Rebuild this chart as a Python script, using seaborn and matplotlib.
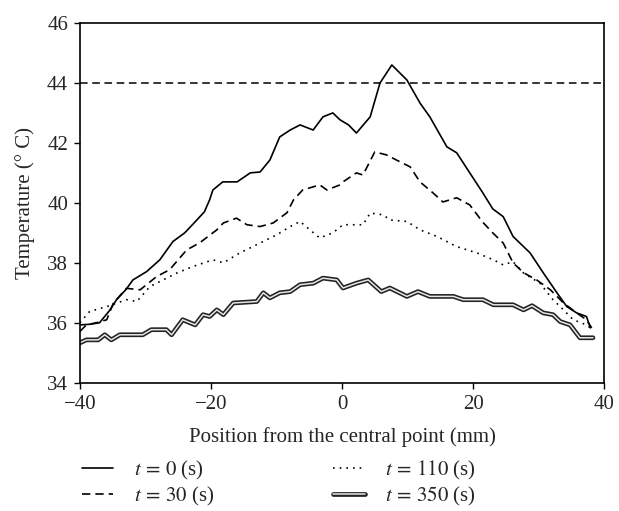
import numpy as np
import matplotlib
matplotlib.use('Agg')
import matplotlib.pyplot as plt
import matplotlib.patheffects as pe
import pandas as pd
import seaborn as sns

# values
t0_x = [-40, -38.5, -37, -35.5, -34.4, -33, -31.9, -29.8, -27.8, -25.8, -24, -22.7, -21, -20.2,
        -19.7, -18.2, -16, -14, -12.5, -11, -9.5, -7.9, -6.4, -4.4, -2.9, -1.4, -0.3, 1.0, 2.2,
        4.3, 5.8, 7.6, 9.9, 11.9, 13.4, 16, 17.5, 19.5, 21.5, 23.0, 24.6, 26.1, 28.7, 30.7,
        32.8, 34.3, 35.8, 37.3, 37.9]
t0_y = [35.93, 35.95, 36.0, 36.4, 36.77, 37.1, 37.43, 37.71, 38.1, 38.71, 39.0, 39.3, 39.7, 40.1,
        40.43, 40.7, 40.7, 41.0, 41.03, 41.43, 42.2, 42.43, 42.6, 42.43, 42.87, 43.0, 42.77, 42.6, 42.33,
        42.87, 44.0, 44.6, 44.1, 43.33, 42.87, 41.87, 41.67, 41.0, 40.33, 39.8, 39.54, 38.88, 38.33, 37.67,
        37.0, 36.54, 36.33, 36.21, 35.83]

t30_x = [-40, -39, -37.5, -35.9, -34.9, -32.9, -30.8, -28.3, -26.3, -23.7, -21.7, -19.1, -18.1,
         -16.1, -14.5, -12.5, -10.5, -8.4, -7.4, -6.0, -3.4, -2.3, -0.3, 0.15, 2.2, 3.2, 5.0, 6.8,
         8.3, 10.4, 11.9, 13.9, 15.4, 17.5, 19.5, 21.5, 23.0, 24.6, 26.1, 27.7, 29.7, 31.8, 33.8,
         35.8, 37.3, 38.1]
t30_y = [35.71, 35.93, 36.0, 36.1, 36.65, 37.15, 37.1, 37.54, 37.77, 38.43, 38.67, 39.1, 39.33,
         39.49, 39.27, 39.21, 39.33, 39.67, 40.1, 40.43, 40.6, 40.43, 40.6, 40.7, 41.0, 40.93, 41.7, 41.6,
         41.43, 41.2, 40.7, 40.33, 40.03, 40.17, 39.93, 39.35, 39.0, 38.66, 38.0, 37.67, 37.43, 37.1, 36.66,
         36.33, 36.1, 35.83]

t110_x = [-40, -38.5, -35.9, -32.9, -31.3, -29.3, -27.3, -25.2, -22.7, -19.7, -18.1, -15.6, -12.5,
          -10, -7.9, -6.4, -4.9, -3.4, -1.4, 0.15, 3.2, 4.3, 6.3, 7.3, 9.9, 11.9, 14.5, 17.5, 20.6,
          23.1, 24.6, 26.1, 27.7, 30.2, 32.2, 33.8, 35.3, 37.3, 37.9]
t110_y = [36.0, 36.38, 36.54, 36.77, 36.71, 37.21, 37.43, 37.66, 37.88, 38.1, 38.0, 38.33, 38.66,
          38.93, 39.21, 39.38, 39.1, 38.83, 39.0, 39.27, 39.27, 39.66, 39.6, 39.43, 39.38, 39.1, 38.88, 38.54, 38.33,
          38.1, 37.93, 38.04, 37.66, 37.32, 36.77, 36.43, 36.1, 35.93, 35.83]

t350_x = [-40, -39, -37.2, -36.2, -35.2, -33.9, -30.4, -29.1, -26.8, -26, -24.3, -22.4, -21.2, -20.2,
          -19.1, -18.1, -16.6, -13, -12, -11, -9.5, -7.9, -6.4, -4.4, -2.9, -0.8, 0.15, 2.2, 4.0, 6.0,
          7.3, 9.9, 11.6, 13.4, 17.0, 18.5, 21.5, 23.1, 26.1, 27.7, 29.0, 30.7, 32.2, 33.3, 34.8, 36.3, 38.3]
t350_y = [35.33, 35.43, 35.43, 35.6, 35.43, 35.6, 35.6, 35.77, 35.77, 35.6, 36.1, 35.93, 36.27, 36.21,
          36.43, 36.27, 36.66, 36.71, 37.0, 36.83, 37.0, 37.04, 37.27, 37.32, 37.49, 37.43, 37.16, 37.32, 37.43, 37.04,
          37.16, 36.88, 37.04, 36.88, 36.88, 36.77, 36.77, 36.6, 36.6, 36.43, 36.57, 36.33, 36.27, 36.04, 35.93, 35.5, 35.5]

limit_temp = 44

sns.set_style('ticks')
plt.rcParams['font.family'] = ['Liberation Serif', 'DejaVu Serif']
plt.rcParams['mathtext.fontset'] = 'stix'

fig = plt.figure(figsize=(6.19, 5.11), dpi=100)
ax = fig.add_axes([0.129, 0.251, 0.847, 0.704])

sns.lineplot(x=t0_x, y=t0_y, ax=ax, color='black', lw=1.2, label='$t\\,=\\,0$ (s)')
sns.lineplot(x=t30_x, y=t30_y, ax=ax, color='black', lw=1.2, linestyle=(0, (5, 3)), label='$t\\,=\\,30$ (s)')
sns.lineplot(x=t110_x, y=t110_y, ax=ax, color='black', lw=1.2, linestyle=(0, (1, 3)), label='$t\\,=\\,110$ (s)')
sns.lineplot(x=t350_x, y=t350_y, ax=ax, color='#e6e6e6', lw=1.1, label='$t\\,=\\,350$ (s)',
             path_effects=[pe.Stroke(linewidth=3.4, foreground='#222222'), pe.Normal()])
ax.axhline(limit_temp, color='black', lw=1.1, linestyle=(0, (5, 3)))

ax.set_xlim(-40, 40)
ax.set_ylim(34, 46)
ax.set_xticks([-40, -20, 0, 20, 40])
ax.set_xticklabels(['\u221240', '\u221220', '0', '20', '40'])
ax.set_yticks([34, 36, 38, 40, 42, 44, 46])
ax.tick_params(labelsize=15, length=4.5, width=1, color='black', direction='out', pad=4)
for s in ax.spines.values():
    s.set_visible(True)
    s.set_color('black')
    s.set_linewidth(1.2)
ax.set_xlabel('Position from the central point (mm)', fontsize=15, labelpad=10)
ax.set_ylabel('Temperature (\u00b0 C)', fontsize=15, labelpad=9)

h, l = ax.get_legend_handles_labels()
ax.get_legend().remove()
fig.legend(h, l, loc='upper left', bbox_to_anchor=(0.116, 0.122), ncol=2, frameon=False,
           fontsize=15, handlelength=1.5, columnspacing=5.7, labelspacing=0.15,
           handletextpad=1.0, borderpad=0)

fig.savefig('out.png', dpi=100)
